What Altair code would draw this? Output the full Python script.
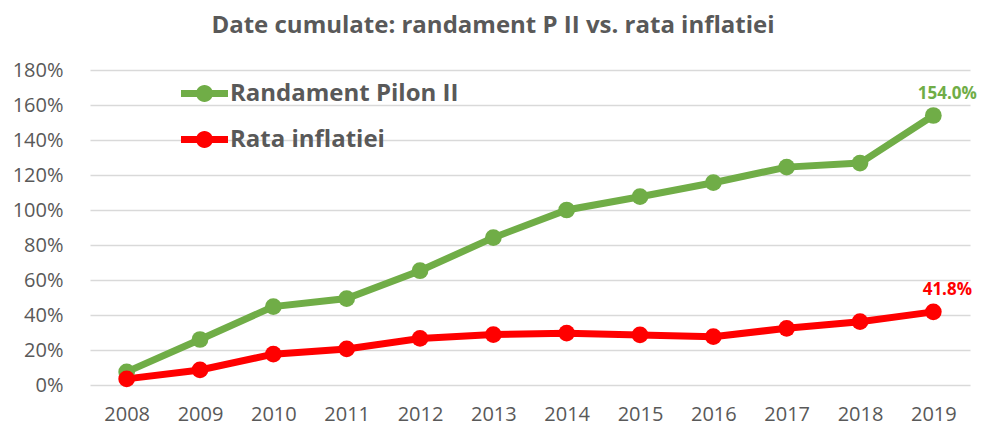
import altair as alt
import pandas as pd

years = ["2008", "2009", "2010", "2011", "2012", "2013", "2014", "2015", "2016", "2017", "2018", "2019"]
pilon = [7.5, 26.0, 44.8, 49.4, 65.3, 84.2, 100.0, 107.6, 115.6, 124.5, 126.8, 154.0]
inflatie = [3.5, 8.6, 17.6, 20.6, 26.6, 28.8, 29.6, 28.6, 27.6, 32.4, 36.2, 41.8]
series_names = ["Randament Pilon II", "Rata inflatiei"]
series_colors = ["#70AD47", "#FF0000"]
y_ticks = [0, 20, 40, 60, 80, 100, 120, 140, 160, 180]

rows = []
for name, vals in zip(series_names, [pilon, inflatie]):
    for i, (yr, v) in enumerate(zip(years, vals)):
        rows.append({
            "An": yr,
            "Valoare": v,
            "Serie": name,
            "Eticheta": f"{v:.1f}%" if i == len(years) - 1 else "",
        })
df = pd.DataFrame(rows)

grey = "#595959"
font = "Open Sans"

legend_shape = ("M-1,-0.15 H1 V0.15 H-1 Z "
                "M-0.36,0 A0.36,0.36 0 1,1 0.36,0 A0.36,0.36 0 1,1 -0.36,0 Z")

x_enc = alt.X("An:O", sort=years, title=None,
              scale=alt.Scale(type="point", padding=0.5),
              axis=alt.Axis(labelAngle=0, labelFontSize=20, labelColor=grey,
                            labelFont=font, ticks=False, domain=False,
                            labelPadding=19, grid=False))
y_enc = alt.Y("Valoare:Q", title=None,
              scale=alt.Scale(domain=[0, 180], nice=False),
              axis=alt.Axis(values=y_ticks, labelExpr="datum.value + '%'",
                            labelFontSize=20, labelColor=grey, labelFont=font,
                            ticks=False, domain=False, labelPadding=27,
                            gridColor="#D9D9D9", gridWidth=1.5))
color_enc = alt.Color("Serie:N", sort=series_names,
                      scale=alt.Scale(domain=series_names, range=series_colors),
                      legend=alt.Legend(title=None, orient="none",
                                        legendX=91, legendY=0,
                                        symbolType=legend_shape, symbolSize=2209,
                                        symbolStrokeWidth=0,
                                        labelFontSize=24, labelFont=font,
                                        labelFontWeight="bold", labelColor=grey,
                                        labelOffset=2, rowPadding=10,
                                        labelLimit=0, symbolOpacity=1))

base = alt.Chart(df).encode(x=x_enc, y=y_enc)

lines = base.mark_line(strokeWidth=7).encode(
    color=color_enc, order=alt.Order("An:O"), detail="Serie:N")
points = base.mark_circle(size=280, opacity=1).encode(
    color=alt.Color("Serie:N", scale=alt.Scale(domain=series_names, range=series_colors), legend=None))
labels = base.mark_text(fontSize=17, fontWeight="bold", font=font, dx=14, dy=-22).encode(
    text="Eticheta:N",
    color=alt.Color("Serie:N", scale=alt.Scale(domain=series_names, range=series_colors), legend=None))

chart = alt.layer(lines, points, labels).properties(
    width=880, height=315,
    autosize=alt.AutoSizeParams(type="none"),
    padding={"left": 82, "top": 62, "right": 8, "bottom": 50},
    title=alt.TitleParams("Date cumulate: randament P II vs. rata inflatiei",
                          fontSize=24, font=font, fontWeight="bold",
                          color=grey, anchor="middle", dx=-37, offset=22),
).configure_view(stroke=None)

chart.save("out.html", embed_options={"renderer": "svg", "actions": False})
